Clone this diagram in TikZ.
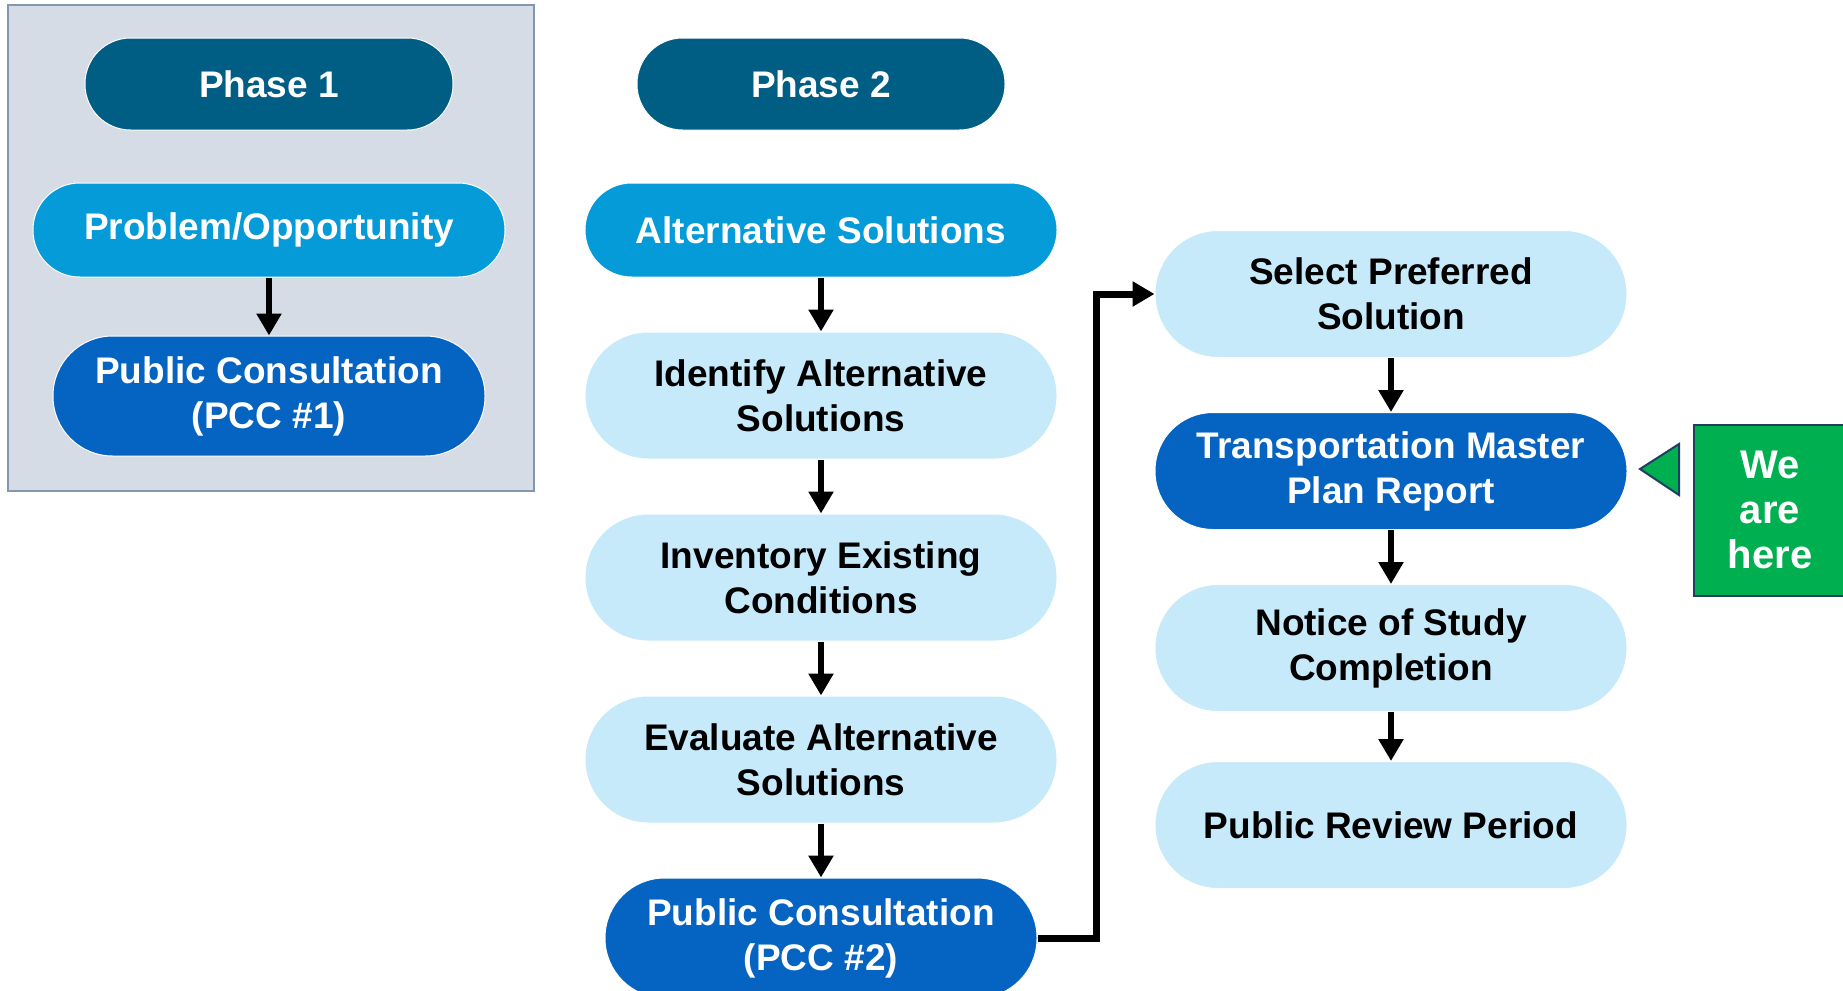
\documentclass[tikz,border=0pt]{standalone}
\usepackage{fontspec}
\setmainfont{Liberation Sans}
\usetikzlibrary{arrows.meta, positioning}
\definecolor{phaseblue}{HTML}{005E85}
\definecolor{skyblue}{HTML}{059BD8}
\definecolor{deepblue}{HTML}{0563C1}
\definecolor{paleblue}{HTML}{C7EAFB}
\definecolor{panelgrey}{HTML}{D6DCE5}
\definecolor{panelline}{HTML}{8497B0}
\definecolor{heregreen}{HTML}{00AF50}
\definecolor{herenavy}{HTML}{1F3F60}

\tikzset{
  box/.style={rectangle, draw=white, line width=0.5pt, align=center, inner sep=0pt,
    font=\fontsize{18.5}{22.5}\selectfont\bfseries},
  phase/.style={box, fill=phaseblue, text=white, minimum width=184pt, minimum height=46pt, rounded corners=22.8pt},
  opener/.style={box, fill=skyblue, text=white, minimum width=236pt, minimum height=47pt, rounded corners=23.3pt},
  consult/.style={box, fill=deepblue, text=white, minimum width=216pt, minimum height=60pt, rounded corners=29.8pt},
  task/.style={box, fill=paleblue, text=black, minimum width=236pt, minimum height=63.5pt, rounded corners=31.5pt},
  report/.style={task, fill=deepblue, text=white, minimum height=58.5pt, rounded corners=29pt},
  herebox/.style={rectangle, fill=heregreen, draw=herenavy, line width=1pt, text=white, align=center,
    minimum width=76pt, minimum height=85.5pt, font=\fontsize{20}{22.5}\selectfont\bfseries},
  flow/.style={line width=3pt, -{Triangle[width=12pt,length=11pt]}},
}

\begin{document}
\begin{tikzpicture}[x=0.5pt, y=-0.5pt]
\useasboundingbox (0,0) rectangle (1843,991);
\draw[fill=panelgrey, draw=panelline, line width=0.7pt] (8,5) rectangle (534,491);

\node[phase] (p1) at (269,84) {Phase 1};
\node[opener, below=26pt of p1] (prob) {Problem/Opportunity};
\node[consult, below=29pt of prob] (pcc1) {Public Consultation\\(PCC \#1)};

\node[phase] (p2) at (821,84) {Phase 2};
\node[opener, below=26pt of p2] (alt) {Alternative Solutions};
\node[task, below=27pt of alt] (ident) {Identify Alternative\\Solutions};
\node[task, below=27pt of ident] (inv) {Inventory Existing\\Conditions};
\node[task, below=27pt of inv] (eval) {Evaluate Alternative\\Solutions};
\node[consult, below=27pt of eval] (pcc2) {Public Consultation\\(PCC \#2)};

\node[task] (sel) at (1391,294) {Select Preferred\\Solution};
\node[report, below=27pt of sel] (tmp) {Transportation Master\\Plan Report};
\node[task, below=27pt of tmp] (notice) {Notice of Study\\Completion};
\node[task, below=24.5pt of notice] (review) {Public Review Period};

\node[herebox] (here) at (1770,510) {We\\are\\here};
\draw[fill=heregreen, draw=herenavy, line width=1pt] (1640,469) -- (1679,444) -- (1679,495) -- cycle;

\draw[flow] (prob) -- (pcc1);
\foreach \a/\b in {alt/ident, ident/inv, inv/eval, eval/pcc2, sel/tmp, tmp/notice, notice/review}
  \draw[flow] (\a) -- (\b);
\draw[flow, line width=3.5pt] (pcc2.east) -- ++(59,0) |- (sel.west);
\end{tikzpicture}
\end{document}
